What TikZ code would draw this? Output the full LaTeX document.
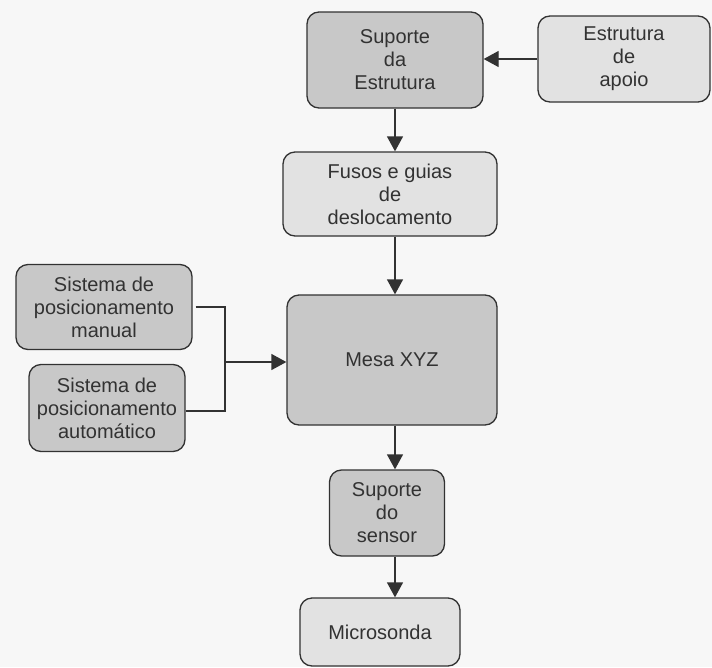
\documentclass[tikz,border=0pt]{standalone}
\usepackage{fontspec}
\setmainfont{Liberation Sans}
\usepackage{tikz}
\usetikzlibrary{arrows.meta,positioning}

\definecolor{paper}{RGB}{247,247,247}
\definecolor{darkbox}{RGB}{200,200,200}
\definecolor{lightbox}{RGB}{226,226,226}
\definecolor{ink}{RGB}{50,50,50}

\begin{document}
\begin{tikzpicture}[x=1pt,y=-1pt,
    box/.style={draw=ink,line width=1.3pt,rounded corners=12pt,align=center,
      inner sep=0pt,font=\fontsize{20}{23}\selectfont,text=ink},
    dark/.style={box,fill=darkbox},
    light/.style={box,fill=lightbox},
    flow/.style={draw=ink,line width=1.3pt,-{Triangle[length=15pt,width=16pt]}},
    wire/.style={draw=ink,line width=1.3pt}]
    \fill [paper] (0,0) rectangle (712,667);
    \useasboundingbox (0,0) rectangle (712,667);

    \node [dark,minimum width=176pt,minimum height=96pt] (sup) at (395, 60) {Suporte\\da\\Estrutura};
    \node [light,minimum width=172pt,minimum height=86pt] (apoio) at (624, 59) {Estrutura\\de\\apoio};
    \node [light,minimum width=214pt,minimum height=84pt] (fusos) at (390, 194) {Fusos e guias\\de\\deslocamento};
    \node [dark,minimum width=210pt,minimum height=130pt] (mesa) at (392, 360) {Mesa XYZ};
    \node [dark,minimum width=176pt,minimum height=85pt] (manual) at (104, 307) {Sistema de\\posicionamento\\manual};
    \node [dark,minimum width=156pt,minimum height=87pt] (auto) at (107, 408) {Sistema de\\posicionamento\\automático};
    \node [dark,minimum width=115pt,minimum height=86pt] (sensor) at (387, 513) {Suporte\\do\\sensor};
    \node [light,minimum width=160pt,minimum height=68pt] (micro) at (380, 632) {Microsonda};

    \coordinate (junc) at (225, 362);

    \draw [flow] (apoio.west) -- (sup.east |- apoio.west);
    \draw [flow] (sup.south) -- (sup.south |- fusos.north);
    \draw [flow] (sup.south |- fusos.south) -- (sup.south |- mesa.north);
    \draw [flow] (sup.south |- mesa.south) -- (sup.south |- sensor.north);
    \draw [flow] (sup.south |- sensor.south) -- (sup.south |- micro.north);

    \draw [wire] ([xshift=3pt]manual.east) -| (junc);
    \draw [wire] ([yshift=-3pt]auto.east) -| (junc);
    \draw [flow] (junc) -- (mesa.west |- junc);
  \end{tikzpicture}
\end{document}
